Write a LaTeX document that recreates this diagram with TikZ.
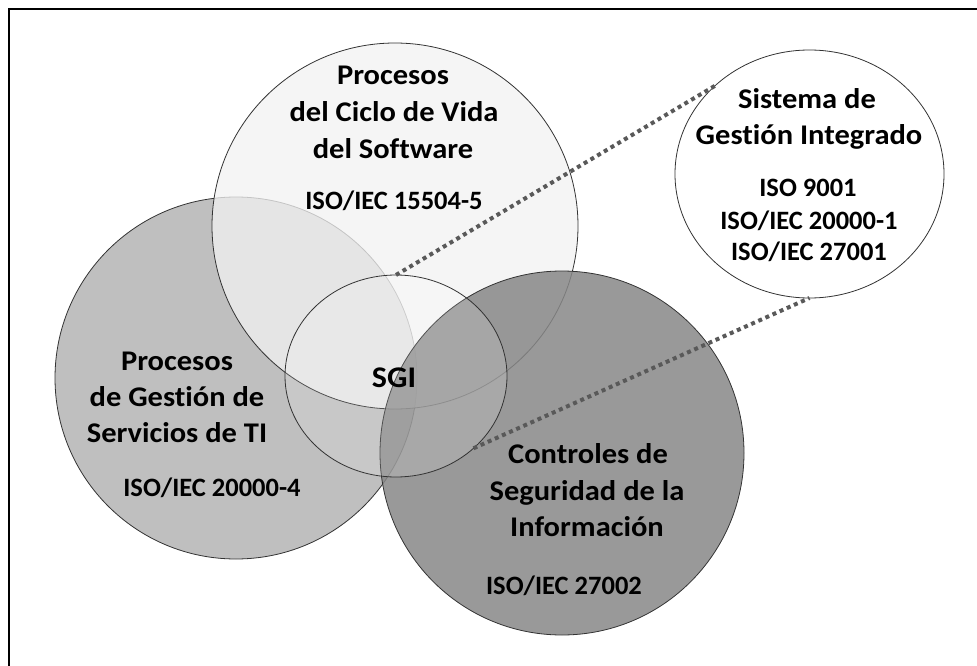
\documentclass[tikz,border=0pt]{standalone}
\usepackage{fontspec}
\setmainfont{Carlito}[RawFeature={-liga;-clig;-calt}]
\newfontfamily\wideface{Carlito}[FakeStretch=1.07,RawFeature={-liga;-clig;-calt}]
\usetikzlibrary{shapes.geometric}
\begin{document}
\begin{tikzpicture}[x=1pt,y=-1pt,
  ring/.style={circle, draw=black!80, line width=0.8pt, inner sep=0pt, outer sep=0pt, minimum size=#1},
  oval/.style={ellipse, draw=black!80, line width=0.8pt, inner sep=0pt, outer sep=0pt},
  title/.style={font=\wideface\fontsize{28.5}{34}\selectfont\bfseries, anchor=base, inner sep=0pt},
  std/.style={font=\fontsize{26.5}{31}\selectfont\bfseries, anchor=base, inner sep=0pt},
  link/.style={draw=black!65, line width=4pt, dash pattern=on 4pt off 3.8pt}
]
\useasboundingbox (0,0) rectangle (977,666);
\draw[line width=2.5pt] (9,666) -- (9,9) -- (977,9);

\node[ring=362pt, fill=black!25] (left) at (236,378) {};
\node[ring=366pt, fill=black!5, fill opacity=0.76] (top) at (395,226) {};
\node[ring=364pt, fill=black!47, fill opacity=0.85] (dark) at (562,453) {};
\node[oval, minimum width=222pt, minimum height=202pt, fill=white, fill opacity=0.15] (sgi) at (396,376) {};
\node[oval, minimum width=269pt, minimum height=248pt, fill=white] (sys) at (809.5,174) {};

\draw[link] (sgi.north) -- (sys.137);
\draw[link] (sgi.-43) -- (sys.-90);

% top circle
\node[title] (t1) at (393,85) {Procesos};
\node[title] (t2) at (394,121.7) {del Ciclo de Vida};
\node[title] (t3) at (393,158.3) {del Software};
\node[std] (t4) at (394,209.3) {ISO/IEC 15504-5};
% left circle
\node[title] (l1) at (177,370) {Procesos};
\node[title] (l2) at (177,406.7) {de Gestión de};
\node[title] (l3) at (177,442.3) {Servicios de TI};
\node[std] (l4) at (212,496.7) {ISO/IEC 20000-4};
% SGI
\node[title, font=\wideface\fontsize{30}{36}\selectfont\bfseries] (s1) at (394,387.3) {SGI};
% dark circle
\node[title] (d1) at (588,463.3) {Controles de};
\node[title] (d2) at (587,500.7) {Seguridad de la};
\node[title] (d3) at (587,536.7) {Información};
\node[std] (d4) at (564,594) {ISO/IEC 27002};
% system circle
\node[title] (y1) at (807,108.3) {Sistema de};
\node[title] (y2) at (809,145) {Gestión Integrado};
\node[std] (y3) at (808,196.7) {ISO 9001};
\node[std] (y4) at (809,229.3) {ISO/IEC 20000-1};
\node[std] (y5) at (809,260) {ISO/IEC 27001};
\end{tikzpicture}
\end{document}
